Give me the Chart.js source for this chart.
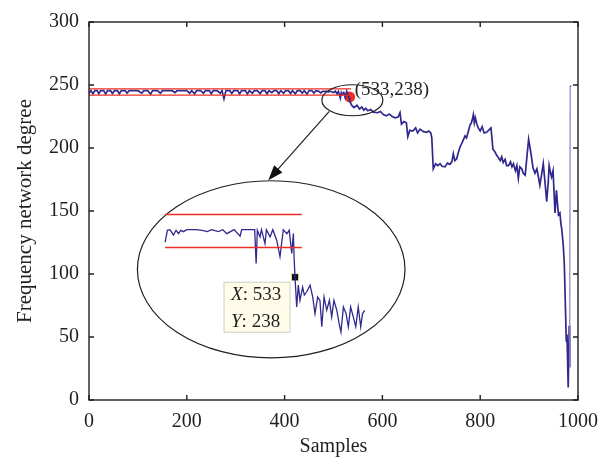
<!DOCTYPE html>
<html>
<head>
<meta charset="utf-8">
<script src="https://cdn.jsdelivr.net/npm/chart.js@4.4.0/dist/chart.umd.min.js"></script>
<style>
  html, body { margin: 0; padding: 0; background: #fff; }
  #wrap { position: relative; width: 613px; height: 459px; }
  #main { position: absolute; left: 0; top: 0; }
  #inset { position: absolute; left: 161px; top: 194px; }
</style>
</head>
<body>
<div id="wrap">
  <canvas id="main" width="613" height="459"></canvas>
  <canvas id="inset" width="210" height="146"></canvas>
</div>
<script>
// [sample, degree]
const flatTrace = [[0,243.5],[4,245.5],[8,243],[12,245.5],[17,245.5],[20,243],[24,245.5],[30,245.5],[34,242.8],[38,245.5],
  [44,245.5],[48,243.2],[52,245.5],[58,245.5],[62,243],[66,245.5],[74,245.5],[78,243.5],[82,245.5],[90,245.5],
  [100,245.5],[108,243.5],[112,245.5],[120,245.5],[126,242.8],[130,245.5],[140,245.5],[146,243.5],[150,245.5],[160,245.5],
  [170,245.5],[176,244],[180,245.5],[190,245.5],[200,245.5],[206,243.5],[210,245.5],[216,243],[220,245.5],[228,245.5],
  [234,243.5],[238,245.5],[246,245.5],[250,243],[254,245.5],[262,245.5],[268,243.5],[272,245.5],[276,239],[280,245.5],
  [288,245.5],[292,243.2],[296,245.5],[304,245.5],[308,243],[312,245.5],[320,245.5],[324,242.8],[328,245.5],[334,243.5],
  [338,245.5],[344,245.5],[350,243.2],[354,245.5],[360,245.5],[364,243],[368,245.5],[374,244],[378,245.5],[384,245.5],
  [388,243],[392,245.5],[398,243.5],[402,245.5],[408,245.5],[412,243.2],[416,245.5],[422,243],[426,245.5],[432,245.5],
  [436,243.5],[440,245.5],[446,242.8],[450,245.5],[456,245.5],[460,243.5],[464,245.5],[470,245],[474,243.8],[478,245],
  [486,245],[490,244.5],[494,245],[500,244],[504,245],[507,243],[510,245],[514,239.5],[516,244],[518,242.5],
  [521,244],[524,240.5],[527,245],[530,241.5],[532,239.5],[533,237.5]];
const declineTrace = [[537,234],[542,232],[548,234],[553,231],[558,232.5],[562,230],[566,231.5],[570,229.5],[576,230.5],[582,228.5],
  [590,228],[596,229],[602,226.5],[608,225.5],[614,227],[620,225],[626,224],[632,224.5],[636,228],[639,219],
  [644,221],[649,220],[652,209],[656,214],[662,213.5],[668,216],[672,212],[677,215],[684,213],[690,212.5],
  [695,213.5],[699,212],[701,208],[704,183.5],[709,187.5],[713,186],[718,187.5],[722,185.5],[728,185],[733,188],
  [738,187],[742,189],[745,195.5],[748,190],[752,191.5],[755,196],[759,201],[764,205],[769,209.5],[772,208],
  [776,213.5],[779,218],[782,220],[784,223],[786,226.5],[788,220],[790,224],[793,219],[796,216],[800,213.5],
  [804,217],[808,212],[813,212.5],[817,214],[822,216],[824,208],[826,199],[830,197],[834,194],[837,192.5],
  [841,190],[844,193],[847,188.5],[851,191],[854,186],[858,186],[862,189],[865,185],[868,187.5],[872,182],
  [875,186],[878,176],[881,185],[885,183.5],[888,180],[892,178.5],[896,195],[899,207],[902,200],[905,192.5]];
const tailTrace = [[908,184],[912,180],[916,183.5],[919,177],[922,170.5],[926,180],[929,187.5],[932,175],[936,157.5],[939,172],
  [941,186],[944,180],[946,177],[949,182],[951,165],[953,148.5],[956,166.5],[958,156],[960,147],[963,148.5],
  [965,140],[967,135],[970,122],[972,108],[974,78],[976,47],[977.5,52],[980,10],[982,59],[983,26],
  [984,249],[986,249]];
// zoomed view around the marked point
const insetTrace = [[470,242.8],[471.1,244.6],[472.4,244.7],[474,243.9],[475.3,244.6],[476.5,244.1],[477.6,244.6],[478.9,244.4],
  [480.5,244.7],[485,244.7],[488,244.6],[490.5,244.4],[492.5,244.7],[495.9,244.4],[498,244.7],[500,244.1],[503.5,244.7],
  [506.4,243.7],[507.2,244.7],[513.5,244.7],[514.2,239.6],[514.8,244.6],[516.1,243.6],[516.8,244.7],[518.5,242.6],
  [519.2,244.7],[521,243.6],[522.3,244.7],[524.2,243.1],[525.8,240.6],[527.4,244.7],[529.1,244.1],[530.3,244.6],
  [531.5,241.1],[532.3,244.1],[532.7,240.1],[533.1,237.5],[533.9,233],[534.7,236.3],[535.5,234],[536.8,236],
  [537.6,234.8],[538.8,235.3],[540.4,236.3],[541.7,234.5],[542.8,232],[544.1,234.5],[545.2,234],[546.1,230],
  [547.2,234.5],[548.5,232.5],[549.8,234],[550.9,231.5],[552,234],[553.4,232.5],[554.5,230.5],[555.4,229.2],
  [556.6,233],[557.9,232],[559,230],[560.1,233],[561.4,231.5],[562.6,230],[563.8,233],[565,230],[565.9,232],[567,232.5]];

const limitHigh = 247, limitLow = 242, limitEnd = 536;
const markX = 533, markY = 240.5, markText = '(533,238)';
const tipX = 533.1, tipY = 237.5, tipLines = [['X', ': 533'], ['Y', ': 238']];
const xTicks = [0, 200, 400, 600, 800, 1000];
const yTicks = [0, 50, 100, 150, 200, 250, 300];

const lineColor = '#30288c';
const red = '#ec2f24';
const ink = '#231f20';
const serif = 'Liberation Serif, Times New Roman, serif';

const toPts = arr => arr.map(p => ({x: p[0], y: p[1]}));
const mainPts = toPts(flatTrace.concat(declineTrace, tailTrace));

function drawEllipse(ctx, x, y, cx, cy, rx, ry) {
  const px = x.getPixelForValue(cx), py = y.getPixelForValue(cy);
  const w = x.getPixelForValue(cx + rx) - px;
  const h = py - y.getPixelForValue(cy + ry);
  ctx.beginPath();
  ctx.ellipse(px, py, w, h, 0, 0, Math.PI * 2);
  ctx.stroke();
}

const decorations = {
  id: 'decorations',
  afterDraw(chart) {
    const {ctx, chartArea: a, scales: {x, y}} = chart;
    ctx.save();
    ctx.strokeStyle = ink;
    ctx.lineWidth = 1.4;
    ctx.strokeRect(a.left, a.top, a.right - a.left, a.bottom - a.top);
    ctx.beginPath();
    xTicks.forEach(v => {
      const px = x.getPixelForValue(v);
      ctx.moveTo(px, a.bottom); ctx.lineTo(px, a.bottom - 5);
      ctx.moveTo(px, a.top); ctx.lineTo(px, a.top + 5);
    });
    yTicks.forEach(v => {
      const py = y.getPixelForValue(v);
      ctx.moveTo(a.left, py); ctx.lineTo(a.left + 5, py);
      ctx.moveTo(a.right, py); ctx.lineTo(a.right - 5, py);
    });
    ctx.stroke();

    // callouts
    ctx.lineWidth = 1.2;
    drawEllipse(ctx, x, y, 538.6, 237.9, 62.4, 12.3);
    drawEllipse(ctx, x, y, 372.6, 103.7, 273.6, 70.3);
    const x0 = x.getPixelForValue(491.4), y0 = y.getPixelForValue(229.1);
    const x1 = x.getPixelForValue(366.7), y1 = y.getPixelForValue(174.5);
    const ang = Math.atan2(y1 - y0, x1 - x0);
    ctx.beginPath();
    ctx.moveTo(x0, y0);
    ctx.lineTo(x1 - 12 * Math.cos(ang), y1 - 12 * Math.sin(ang));
    ctx.stroke();
    ctx.fillStyle = '#111';
    ctx.beginPath();
    ctx.moveTo(x1, y1);
    ctx.lineTo(x1 - 15 * Math.cos(ang) + 5.5 * Math.sin(ang), y1 - 15 * Math.sin(ang) - 5.5 * Math.cos(ang));
    ctx.lineTo(x1 - 15 * Math.cos(ang) - 5.5 * Math.sin(ang), y1 - 15 * Math.sin(ang) + 5.5 * Math.cos(ang));
    ctx.closePath();
    ctx.fill();

    ctx.fillStyle = ink;
    ctx.font = '19px ' + serif;
    ctx.textBaseline = 'alphabetic';
    ctx.fillText(markText, x.getPixelForValue(markX) + 5, y.getPixelForValue(markY) - 2);
    ctx.restore();
  }
};

new Chart(document.getElementById('main'), {
  type: 'scatter',
  data: {
    datasets: [
      { data: [{x: 0, y: limitHigh}, {x: limitEnd, y: limitHigh}], showLine: true, borderColor: red, borderWidth: 1.3, pointRadius: 0 },
      { data: [{x: 0, y: limitLow}, {x: limitEnd, y: limitLow}], showLine: true, borderColor: red, borderWidth: 1.3, pointRadius: 0 },
      { data: mainPts, showLine: true, borderColor: lineColor, borderWidth: 1.7, pointRadius: 0,
        segment: { borderColor: c => (c.p1.parsed.y - c.p0.parsed.y > 150 ? '#8b80c2' : lineColor),
                   borderWidth: c => (c.p1.parsed.y - c.p0.parsed.y > 150 ? 1.2 : 1.7) } },
      { data: [{x: markX, y: markY}], pointRadius: 5.5, pointBackgroundColor: red, pointBorderWidth: 0 }
    ]
  },
  options: {
    responsive: false,
    animation: false,
    devicePixelRatio: 1,
    layout: { autoPadding: false, padding: { top: 16, right: 35, left: 0, bottom: 0 } },
    plugins: { legend: { display: false }, tooltip: { enabled: false } },
    scales: {
      x: {
        min: 0, max: 1000,
        grid: { display: false, drawTicks: false }, border: { display: false },
        ticks: { stepSize: 200, padding: 10, color: ink, font: { family: serif, size: 20 }, callback: v => String(v) },
        title: { display: true, text: 'Samples', color: ink, font: { family: serif, size: 20 }, padding: { top: 0, bottom: 0 } },
        afterFit: s => { s.height = 59; }
      },
      y: {
        min: 0, max: 300,
        grid: { display: false, drawTicks: false }, border: { display: false },
        ticks: { stepSize: 50, padding: 10, color: ink, font: { family: serif, size: 20 }, callback: v => String(v) },
        title: { display: true, text: 'Frequency network degree', color: ink, font: { family: serif, size: 21 }, padding: { top: 13, bottom: 0 } },
        afterFit: s => { s.width = 89; }
      }
    }
  },
  plugins: [decorations]
});

const datatip = {
  id: 'datatip',
  afterDraw(chart) {
    const {ctx, scales: {x, y}} = chart;
    const sx = x.getPixelForValue(tipX), sy = y.getPixelForValue(tipY);
    ctx.save();
    ctx.fillStyle = '#fffcea';
    ctx.strokeStyle = '#cfcfc8';
    ctx.lineWidth = 1;
    ctx.fillRect(sx - 71, sy + 5, 66, 50);
    ctx.strokeRect(sx - 71, sy + 5, 66, 50);
    ctx.fillStyle = ink;
    ctx.textBaseline = 'middle';
    tipLines.forEach((ln, i) => {
      const ty = sy + 18 + i * 27;
      ctx.font = 'italic 19px ' + serif;
      ctx.fillText(ln[0], sx - 64, ty);
      const w = ctx.measureText(ln[0]).width;
      ctx.font = '19px ' + serif;
      ctx.fillText(ln[1], sx - 64 + w, ty);
    });
    ctx.restore();
  }
};

new Chart(document.getElementById('inset'), {
  type: 'scatter',
  data: {
    datasets: [
      { data: [{x: 470, y: limitHigh}, {x: 536.4, y: limitHigh}], showLine: true, borderColor: red, borderWidth: 1.3, pointRadius: 0 },
      { data: [{x: 470, y: limitLow}, {x: 536.4, y: limitLow}], showLine: true, borderColor: red, borderWidth: 1.3, pointRadius: 0 },
      { data: toPts(insetTrace), showLine: true, borderColor: lineColor, borderWidth: 1.3, pointRadius: 0 },
      { data: [{x: tipX, y: tipY}], pointStyle: 'rect', pointRadius: 5.2, pointBackgroundColor: '#111', pointBorderColor: '#f3ecc0', pointBorderWidth: 1 }
    ]
  },
  options: {
    responsive: false,
    animation: false,
    devicePixelRatio: 1,
    layout: { autoPadding: false, padding: 0 },
    plugins: { legend: { display: false }, tooltip: { enabled: false } },
    scales: {
      x: { min: 468, max: 570, display: false },
      y: { min: 228, max: 250.1, display: false }
    }
  },
  plugins: [datatip]
});
</script>
</body>
</html>
